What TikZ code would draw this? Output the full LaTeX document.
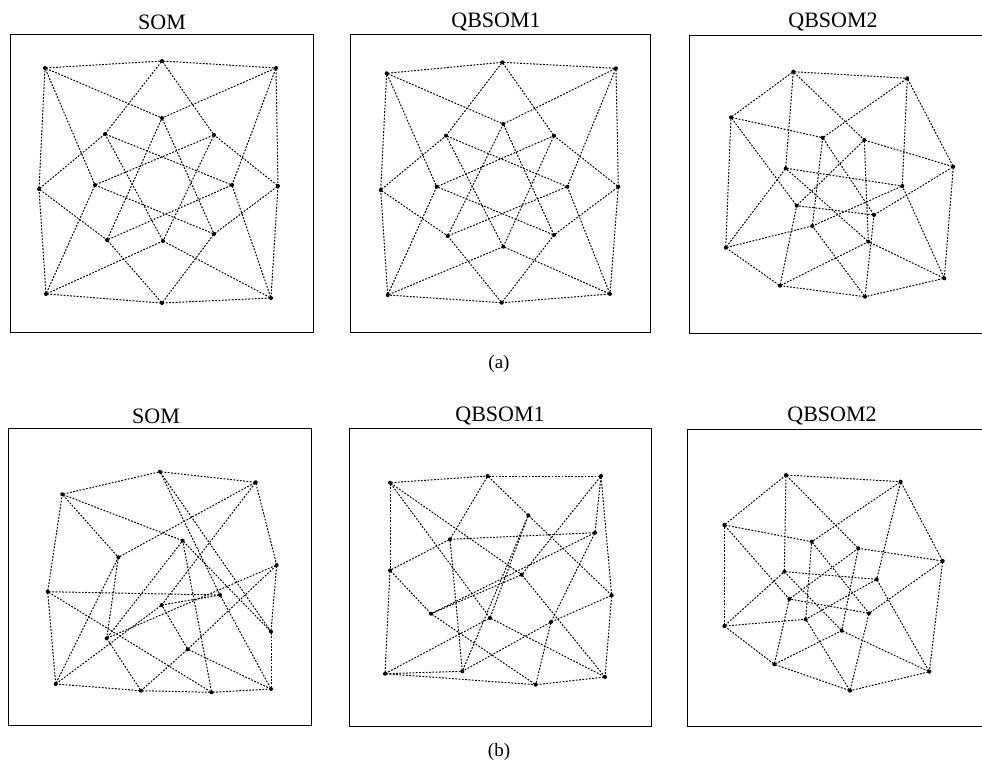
\documentclass[tikz,border=0pt]{standalone}
\usepackage{fontspec}
\setmainfont{Liberation Serif}
\begin{document}
\begin{tikzpicture}[x=1pt,y=-1pt,
  dot/.style={circle,fill=black,inner sep=0pt,minimum size=4pt},
  link/.style={line width=1pt,dash pattern=on 1.8pt off 1.5pt,shorten <=-1pt,shorten >=-1pt},
  frame/.style={line width=0.9pt},
  ttl/.style={font=\fontsize{22}{26}\selectfont,inner sep=0pt},
  capt/.style={font=\fontsize{19}{22}\selectfont,inner sep=0pt}]
\useasboundingbox (0,0) rectangle (982,766);
\newcommand\mkpanel[3]{%
  \foreach \p [count=\k from 0] in {#2} {\node[dot] (#1o\k) at (\p) {};}
  \foreach \p [count=\k from 0] in {#3} {\node[dot] (#1i\k) at (\p) {};}
  \foreach \k in {0,...,7} {
    \pgfmathtruncatemacro\nx{mod(\k+1,8)}
    \pgfmathtruncatemacro\tx{mod(\k+3,8)}
    \draw[link] (#1o\k) -- (#1o\nx);
    \draw[link] (#1o\k) -- (#1i\nx);
    \draw[link] (#1o\nx) -- (#1i\k);
    \draw[link] (#1i\k) -- (#1i\tx);
  }}
% frames
\draw[frame] (10,34) rectangle (313,332);
\draw[frame] (350,34) rectangle (650,332);
\draw[frame] (983,35) -- (689,35) -- (689,333) -- (983,333);
\draw[frame] (8,428) rectangle (311,725);
\draw[frame] (349,428) rectangle (651,726);
\draw[frame] (983,429) -- (687,429) -- (687,726) -- (983,726);
% titles
\node[ttl] (t1) at (162,22) {SOM};
\node[ttl] (t2) at (496,22) {QBSOM1};
\node[ttl] (t3) at (833,22) {QBSOM2};
\node[ttl] (t4) at (156,416) {SOM};
\node[ttl] (t5) at (500,416) {QBSOM1};
\node[ttl] (t6) at (832,416) {QBSOM2};
\node[capt] (ca) at (499,364) {(a)};
\node[capt] (cb) at (499,752) {(b)};
% panel 1
\mkpanel{A}{{45,68},{162,61},{276,68},{278,186},{271,298},{162,303},{46,294},{39,189}}
 {{105,134},{162,118},{214,135},{232,185},{214,234},{163,241},{107,240},{95,185}}
% panel 2
\mkpanel{B}{{386.7,73.3},{502.3,62.3},{616,68.3},{618.3,186.7},{610,294},{501.7,302.7},{387.7,295},{380.7,190}}
 {{446,135.7},{503.3,124},{554,135.7},{567.3,186.7},{554,235},{503.3,246.7},{447.7,236},{436.7,186.7}}
% panel 3
\mkpanel{C}{{793.3,71.7},{907.3,78.3},{953.3,166.7},{944.3,278.3},{865,296.7},{780,285.7},{725.7,247.7},{731,117.3}}
 {{822.7,137.7},{864.3,140},{902.3,186},{874,215},{868.3,241.7},{812.3,226},{796.7,205.7},{785.7,168.3}}
% panel 4
\mkpanel{D}{{62.3,494.3},{160,471.7},{255.7,482.3},{276.7,565},{187.7,649.3},{141,690.7},{211.7,692.3},{47.7,591.7}}
 {{220,595},{118.3,557.3},{271,631.7},{161.7,605},{106.7,638.3},{271,689},{55.7,684},{182.7,540.7}}
% panel 5 (explicit)
\foreach \nm/\px/\py in {a/390/482.7, b/487.7/476, c/601/476, d/528.3/515.3,
  e/595/532.7, g/450/539.3, h/390/570.3, i/521.7/574.7, j/611.7/595.3,
  k/431/613.7, l/490/618, m/551/622, n/385/673.7, o/462.3/671.3,
  p/605/677, q/535.7/684.7}
  {\node[dot] (E\nm) at (\px,\py) {};}
\foreach \u/\v in {a/b, a/h, a/i, a/l, b/c, b/g, b/d, c/j, c/e, c/i,
  d/j, d/o, d/l, e/g, e/k, e/m, g/h, g/o, h/n, h/k, i/k, i/p,
  j/p, j/m, k/q, l/p, l/n, m/q, m/o, n/q, n/o, p/q}
  {\draw[link] (E\u) -- (E\v);}
% panel 6
\mkpanel{F}{{786,475},{900.7,481.7},{942.7,561},{929.3,671.7},{850,690.7},{774.3,664.3},{724.3,626},{724.3,525}}
 {{811.7,541.7},{858.3,548.3},{876.7,579.3},{869,613.3},{841.7,630.7},{805.7,619.3},{789.3,599},{784.3,571.7}}
\end{tikzpicture}
\end{document}
